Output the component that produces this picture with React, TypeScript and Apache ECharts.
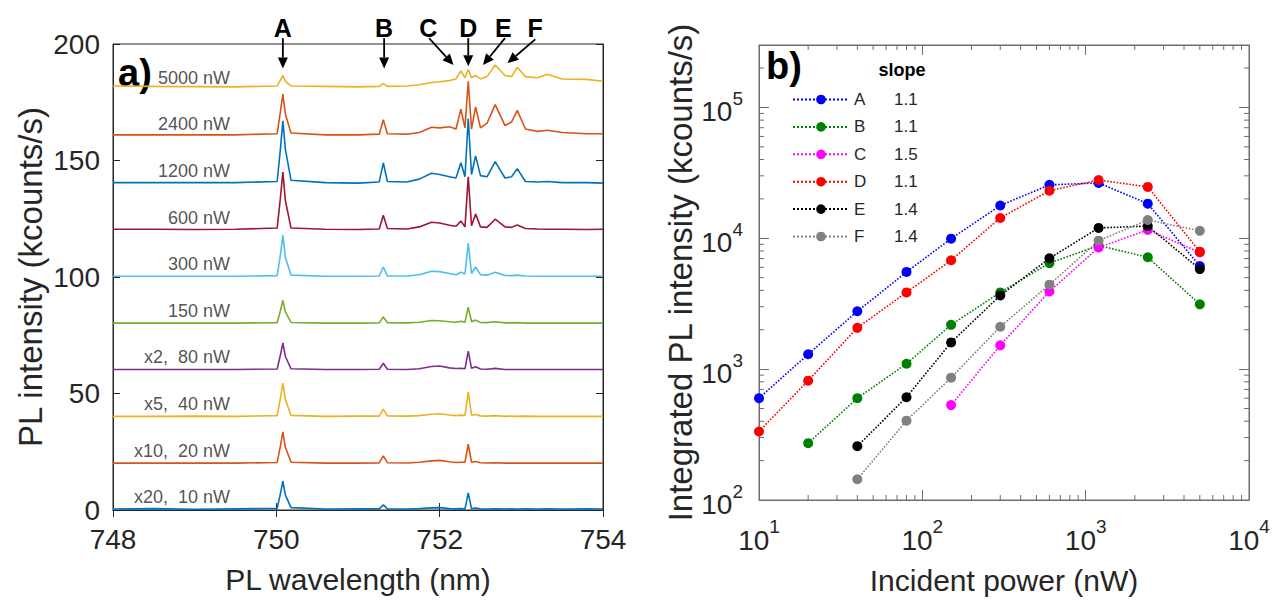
import React, { useEffect, useRef } from "react";
import * as echarts from "echarts";

const FONT = "'Liberation Sans', Arial, Helvetica, sans-serif";
const TXT = "#262626";

// ---------- panel a) : PL spectra ----------
const wavelengths = [
  748.0, 748.5, 749.0, 749.5, 750.01, 750.05, 750.08, 750.11, 750.18, 750.6, 751.0, 751.26, 751.31,
  751.36, 751.6, 751.75, 751.9, 752.0, 752.12, 752.2, 752.26, 752.31, 752.35, 752.39, 752.44, 752.5,
  752.58, 752.68, 752.8, 752.88, 752.95, 753.05, 753.2, 753.32, 753.5, 753.8, 754.0,
];
const spec10 = [0.4, 0.6, 0.3, 0.5, 0.7, 7.0, 12.4, 6.5, 1.0, 0.4, 0.5, 0.5, 2.2, 0.5, 0.4, 0.6, 0.9, 1.0, 0.6, 0.5, 0.6, 0.5, 7.3, 0.6, 0.8, 0.5, 0.4, 0.5, 0.4, 0.5, 0.4, 0.5, 0.4, 0.5, 0.4, 0.5, 0.4];
const spec20 = [20.1, 20.1, 20.1, 20.1, 20.4, 27.5, 33.5, 27.0, 20.5, 20.1, 20.1, 20.2, 23.2, 20.3, 20.2, 20.5, 21.1, 21.3, 20.7, 20.4, 20.5, 20.5, 28.3, 20.5, 20.8, 20.3, 20.2, 20.3, 20.1, 20.1, 20.1, 20.1, 20.1, 20.1, 20.1, 20.1, 20.1];
const spec40 = [40.2, 40.2, 40.3, 40.2, 40.5, 48.0, 54.5, 47.5, 40.6, 40.2, 40.3, 40.3, 43.3, 40.4, 40.3, 40.5, 41.1, 41.3, 40.8, 40.5, 40.7, 40.6, 50.6, 40.7, 41.0, 40.4, 40.3, 40.5, 40.2, 40.3, 40.2, 40.3, 40.2, 40.2, 40.2, 40.2, 40.2];
const spec80 = [60.3, 60.3, 60.3, 60.3, 60.5, 66.5, 71.7, 66.0, 60.6, 60.3, 60.3, 60.4, 63.0, 60.4, 60.3, 60.6, 61.6, 61.8, 61.0, 60.7, 60.8, 60.6, 68.2, 60.8, 61.5, 60.5, 60.4, 60.8, 60.3, 60.3, 60.3, 60.3, 60.3, 60.3, 60.3, 60.3, 60.3];
const spec150 = [80.2, 80.2, 80.2, 80.2, 80.4, 85.5, 90.0, 85.0, 80.5, 80.2, 80.2, 80.3, 82.8, 80.4, 80.3, 80.6, 81.3, 81.2, 80.8, 80.6, 81.0, 80.6, 87.1, 80.8, 81.5, 80.5, 80.4, 80.8, 80.3, 80.3, 80.4, 80.2, 80.2, 80.2, 80.2, 80.2, 80.2];
const spec300 = [100.3, 100.3, 100.3, 100.3, 100.6, 109.5, 118.0, 108.5, 100.8, 100.3, 100.3, 100.4, 104.3, 100.5, 100.4, 101.0, 102.5, 102.3, 101.5, 101.0, 102.0, 101.3, 114.6, 101.5, 104.3, 101.0, 100.8, 102.0, 100.7, 100.6, 100.8, 100.4, 100.3, 100.3, 100.3, 100.3, 100.3];
const spec600 = [120.5, 120.5, 120.4, 120.5, 121.0, 134.0, 145.0, 133.0, 121.0, 120.5, 120.4, 120.6, 126.5, 120.8, 120.6, 121.5, 123.5, 123.2, 122.2, 121.8, 124.0, 121.5, 143.0, 122.0, 127.0, 121.5, 121.3, 124.8, 121.5, 121.3, 122.3, 120.8, 120.6, 120.5, 120.5, 120.4, 120.5];
const spec1200 = [140.5, 140.5, 140.5, 140.5, 141.0, 155.0, 167.0, 155.0, 141.5, 140.5, 140.3, 140.8, 149.0, 141.0, 140.8, 142.0, 144.5, 144.0, 143.0, 142.5, 149.0, 143.0, 168.0, 144.0, 152.0, 143.5, 143.0, 149.5, 142.5, 143.0, 146.5, 141.0, 140.8, 141.0, 140.5, 140.5, 140.3];
const spec2400 = [161.0, 161.0, 161.0, 161.0, 161.5, 171.0, 178.5, 170.0, 161.8, 161.0, 161.0, 161.3, 167.5, 161.5, 161.3, 162.0, 164.3, 164.0, 164.5, 163.5, 172.0, 164.0, 184.0, 163.5, 173.0, 164.0, 166.0, 174.0, 165.0, 166.5, 171.5, 163.5, 162.5, 163.0, 162.0, 161.5, 161.5];
const spec5000 = [182.0, 181.8, 181.7, 181.6, 182.0, 184.5, 186.5, 184.0, 182.0, 181.8, 181.6, 181.8, 183.0, 181.8, 182.0, 182.5, 183.5, 183.8, 184.3, 185.0, 188.4, 185.5, 189.0, 185.5, 186.5, 185.0, 186.0, 191.0, 186.5, 186.0, 190.0, 186.0, 185.5, 187.0, 185.0, 184.8, 184.0];

const spectra = [spec10, spec20, spec40, spec80, spec150, spec300, spec600, spec1200, spec2400, spec5000];
const spectrumLabels = ["x20,  10 nW", "x10,  20 nW", "x5,  40 nW", "x2,  80 nW", "150 nW", "300 nW", "600 nW", "1200 nW", "2400 nW", "5000 nW"];
const spectrumOffsets = [0, 20, 40, 60, 80, 100, 120, 140, 160, 180];
const spectrumColors = ["#0072BD", "#D95319", "#EDB120", "#7E2F8E", "#77AC30", "#4DBEEE", "#A2142F", "#0072BD", "#D95319", "#EDB120"];
const labelWavelength = 749.44;

const wlTicks = { min: 748, max: 754, interval: 2 };
const intTicks = { min: 0, max: 200, interval: 50 };

// peak annotations (data coordinates of panel a)
const peakMarks = [
  { name: "A", label: [750.08, 207], tail: [750.08, 202.5], tip: [750.08, 189.5] },
  { name: "B", label: [751.32, 207], tail: [751.32, 202.5], tip: [751.32, 189.5] },
  { name: "C", label: [751.86, 207], tail: [751.87, 202.5], tip: [752.17, 191] },
  { name: "D", label: [752.35, 207], tail: [752.35, 202.5], tip: [752.35, 190.5] },
  { name: "E", label: [752.78, 207], tail: [752.8, 202.5], tip: [752.53, 191] },
  { name: "F", label: [753.17, 207], tail: [753.17, 202], tip: [752.83, 191.8] },
];

// ---------- panel b) : integrated intensity vs power ----------
const powers = [10, 20, 40, 80, 150, 300, 600, 1200, 2400, 5000];
const intA = [600, 1300, 2770, 5530, 9930, 17800, 25600, 26500, 18400, 6140];
const intB = [null, 272, 600, 1100, 2180, 3860, 6460, 8800, 7160, 3130];
const intC = [null, null, null, null, 531, 1520, 3920, 8510, 11600, 7800];
const intD = [334, 817, 2070, 3860, 6790, 14300, 23100, 27900, 24700, 7900];
const intE = [null, null, 258, 610, 1600, 3660, 7030, 12000, 12400, 5820];
const intF = [null, null, 144, 404, 861, 2110, 4420, 9590, 13800, 11400];
const peakSeries = [intA, intB, intC, intD, intE, intF];
const peakNames = ["A", "B", "C", "D", "E", "F"];
const slopes = ["1.1", "1.1", "1.5", "1.1", "1.4", "1.4"];
const peakColors = ["#0000FF", "#008000", "#FF00FF", "#FF0000", "#000000", "#808080"];

const powerRange = { min: 10, max: 10000 };
const integRange = { min: 100, max: 300000 };
const minorPowerTicks = [20, 30, 40, 50, 60, 70, 80, 90, 200, 300, 400, 500, 600, 700, 800, 900, 2000, 3000, 4000, 5000, 6000, 7000, 8000, 9000];
const minorIntegTicks = [200, 300, 400, 500, 600, 700, 800, 900, 2000, 3000, 4000, 5000, 6000, 7000, 8000, 9000, 20000, 30000, 40000, 50000, 60000, 70000, 80000, 90000, 200000];

const FRAME_A = "#262626";
const FRAME_B = "#6e6e6e";

function powLabel(v: number) {
  const e = Math.log10(v);
  const r = Math.round(e);
  return Math.abs(e - r) < 1e-6 ? `{b|10}{s|${r}}` : "";
}
const powRich = {
  b: { fontSize: 28, fontFamily: FONT, color: TXT, padding: [9, 0, 0, 0], verticalAlign: "bottom" },
  s: { fontSize: 19, fontFamily: FONT, color: TXT, verticalAlign: "top" },
};

function buildOption(): any {
  const tickStyle = (c: string, len: number) => ({ show: true, inside: true, length: len, lineStyle: { color: c, width: 1 } });
  const series: any[] = [];
  spectra.forEach((s, i) => {
    series.push({
      type: "line",
      name: spectrumLabels[i],
      xAxisIndex: 0,
      yAxisIndex: 0,
      data: wavelengths.map((w, j) => [w, s[j]]),
      showSymbol: false,
      symbol: "none",
      lineStyle: { color: spectrumColors[i], width: 1.6 },
      silent: true,
      z: 2,
    });
  });
  series.push({
    type: "scatter",
    name: "labels",
    xAxisIndex: 0,
    yAxisIndex: 0,
    symbolSize: 1,
    itemStyle: { color: "rgba(0,0,0,0)" },
    data: spectrumLabels.map((t, i) => [labelWavelength, spectrumOffsets[i] + 5.5]),
    label: {
      show: true,
      position: "left",
      distance: 0,
      formatter: (p: any) => spectrumLabels[p.dataIndex],
      fontSize: 18,
      fontFamily: FONT,
      color: TXT,
    },
    silent: true,
    z: 3,
  });
  peakSeries.forEach((vals, i) => {
    const pts: number[][] = [];
    vals.forEach((v, j) => {
      if (v !== null) pts.push([powers[j], v as number]);
    });
    series.push({
      type: "line",
      name: peakNames[i],
      xAxisIndex: 2,
      yAxisIndex: 2,
      data: pts,
      symbol: "circle",
      symbolSize: 10,
      showSymbol: true,
      lineStyle: { color: peakColors[i], width: 1.6, type: "dotted" },
      itemStyle: { color: peakColors[i] },
      silent: true,
      z: 3,
    });
  });
  // log minor ticks (panel b)
  series.push({
    type: "custom",
    name: "minorX",
    xAxisIndex: 2,
    yAxisIndex: 2,
    silent: true,
    data: minorPowerTicks.map((v) => [v, 1000]),
    renderItem: (params: any, api: any) => {
      const cs = params.coordSys;
      const x = api.coord([api.value(0), 1000])[0];
      const st = { stroke: FRAME_B, lineWidth: 1 };
      return {
        type: "group",
        children: [
          { type: "line", shape: { x1: x, y1: cs.y + cs.height, x2: x, y2: cs.y + cs.height - 5 }, style: st },
          { type: "line", shape: { x1: x, y1: cs.y, x2: x, y2: cs.y + 5 }, style: st },
        ],
      };
    },
  });
  series.push({
    type: "custom",
    name: "minorY",
    xAxisIndex: 2,
    yAxisIndex: 2,
    silent: true,
    data: minorIntegTicks.map((v) => [100, v]),
    renderItem: (params: any, api: any) => {
      const cs = params.coordSys;
      const y = api.coord([100, api.value(1)])[1];
      const st = { stroke: FRAME_B, lineWidth: 1 };
      return {
        type: "group",
        children: [
          { type: "line", shape: { x1: cs.x, y1: y, x2: cs.x + 5, y2: y }, style: st },
          { type: "line", shape: { x1: cs.x + cs.width, y1: y, x2: cs.x + cs.width - 5, y2: y }, style: st },
        ],
      };
    },
  });

  return {
    animation: false,
    backgroundColor: "#ffffff",
    textStyle: { fontFamily: FONT },
    grid: [
      { left: 113, top: 44, width: 490, height: 466, show: true, borderColor: FRAME_A, borderWidth: 1, backgroundColor: "transparent" },
      { left: 759, top: 45, width: 490, height: 464, show: true, borderColor: FRAME_B, borderWidth: 1, backgroundColor: "transparent" },
    ],
    legend: {
      data: peakNames,
      orient: "vertical",
      left: 787,
      top: 86,
      itemWidth: 56,
      itemHeight: 12,
      itemGap: 10.4,
      selectedMode: false,
      formatter: (name: string) => `{n|${name}}{s|${slopes[peakNames.indexOf(name)]}}`,
      textStyle: {
        fontSize: 17,
        fontFamily: FONT,
        color: TXT,
        rich: {
          n: { width: 40, fontSize: 17, lineHeight: 16, fontFamily: FONT, color: TXT },
          s: { fontSize: 17, lineHeight: 16, fontFamily: FONT, color: TXT },
        },
      },
    },
    xAxis: [
      {
        gridIndex: 0, type: "value", position: "bottom", ...wlTicks,
        axisLine: { show: true, lineStyle: { color: FRAME_A } },
        axisTick: tickStyle(FRAME_A, 7),
        axisLabel: { fontSize: 28, fontFamily: FONT, color: TXT, margin: 15 },
        splitLine: { show: false },
        name: "PL wavelength (nm)", nameLocation: "middle", nameGap: 54,
        nameTextStyle: { fontSize: 30, fontFamily: FONT, color: TXT },
      },
      {
        gridIndex: 0, type: "value", position: "top", ...wlTicks,
        axisLine: { show: true, lineStyle: { color: FRAME_A } },
        axisTick: tickStyle(FRAME_A, 7),
        axisLabel: { show: false },
        splitLine: { show: false },
      },
      {
        gridIndex: 1, type: "log", logBase: 10, position: "bottom", ...powerRange,
        axisLine: { show: true, lineStyle: { color: FRAME_B } },
        axisTick: tickStyle(FRAME_B, 10),
        axisLabel: { formatter: powLabel, rich: powRich, margin: 17, showMinLabel: true, showMaxLabel: true },
        splitLine: { show: false },
        name: "Incident power (nW)", nameLocation: "middle", nameGap: 65,
        nameTextStyle: { fontSize: 30, fontFamily: FONT, color: TXT },
      },
      {
        gridIndex: 1, type: "log", logBase: 10, position: "top", ...powerRange,
        axisLine: { show: true, lineStyle: { color: FRAME_B } },
        axisTick: tickStyle(FRAME_B, 10),
        axisLabel: { show: false },
        splitLine: { show: false },
      },
    ],
    yAxis: [
      {
        gridIndex: 0, type: "value", position: "left", ...intTicks,
        axisLine: { show: true, lineStyle: { color: FRAME_A } },
        axisTick: tickStyle(FRAME_A, 7),
        axisLabel: { fontSize: 28, fontFamily: FONT, color: TXT, margin: 13 },
        splitLine: { show: false },
        name: "PL intensity (kcounts/s)", nameLocation: "middle", nameGap: 66, nameRotate: 90,
        nameTextStyle: { fontSize: 33, fontFamily: FONT, color: TXT },
      },
      {
        gridIndex: 0, type: "value", position: "right", ...intTicks,
        axisLine: { show: true, lineStyle: { color: FRAME_A } },
        axisTick: tickStyle(FRAME_A, 7),
        axisLabel: { show: false },
        splitLine: { show: false },
      },
      {
        gridIndex: 1, type: "log", logBase: 10, position: "left", ...integRange,
        axisLine: { show: true, lineStyle: { color: FRAME_B } },
        axisTick: tickStyle(FRAME_B, 10),
        axisLabel: { formatter: powLabel, rich: powRich, margin: 16 },
        splitLine: { show: false },
        name: "Integrated PL intensity (kcounts/s)", nameLocation: "middle", nameGap: 62, nameRotate: 90,
        nameTextStyle: { fontSize: 33, fontFamily: FONT, color: TXT },
      },
      {
        gridIndex: 1, type: "log", logBase: 10, position: "right", ...integRange,
        axisLine: { show: true, lineStyle: { color: FRAME_B } },
        axisTick: tickStyle(FRAME_B, 10),
        axisLabel: { show: false },
        splitLine: { show: false },
      },
    ],
    series,
  };
}

export default function App() {
  const ref = useRef<HTMLDivElement>(null);
  useEffect(() => {
    document.body.style.margin = "0";
    const chart = echarts.init(ref.current!, null, { renderer: "svg" });
    chart.setOption(buildOption());
    const toPx = (p: number[]) => chart.convertToPixel({ xAxisIndex: 0, yAxisIndex: 0 }, p) as number[];
    const els: any[] = [
      { type: "text", x: 135, y: 73, silent: true, style: { text: "a)", fontSize: 38, fontWeight: "bold", fontFamily: FONT, fill: "#000", align: "center", verticalAlign: "middle" } },
      { type: "text", x: 784, y: 66, silent: true, style: { text: "b)", fontSize: 38, fontWeight: "bold", fontFamily: FONT, fill: "#000", align: "center", verticalAlign: "middle" } },
      { type: "text", x: 902, y: 70, silent: true, style: { text: "slope", fontSize: 18, fontWeight: "bold", fontFamily: FONT, fill: "#000", align: "center", verticalAlign: "middle" } },
    ];
    peakMarks.forEach((m) => {
      const [tx, ty] = toPx(m.tail);
      const [hx, hy] = toPx(m.tip);
      const [lx, ly] = toPx(m.label);
      const dx = hx - tx;
      const dy = hy - ty;
      const len = Math.hypot(dx, dy) || 1;
      const ux = dx / len;
      const uy = dy / len;
      const hl = 11;
      const hw = 5;
      const bx = hx - ux * hl;
      const by = hy - uy * hl;
      els.push({ type: "line", silent: true, shape: { x1: tx, y1: ty, x2: bx, y2: by }, style: { stroke: "#000", lineWidth: 1.8 } });
      els.push({ type: "polygon", silent: true, shape: { points: [[hx, hy], [bx - uy * hw, by + ux * hw], [bx + uy * hw, by - ux * hw]] }, style: { fill: "#000" } });
      els.push({ type: "text", x: lx, y: ly, silent: true, style: { text: m.name, fontSize: 25, fontWeight: "bold", fontFamily: FONT, fill: "#000", align: "center", verticalAlign: "middle" } });
    });
    chart.setOption({ graphic: { elements: els } });
    return () => chart.dispose();
  }, []);
  return <div ref={ref} style={{ width: 1275, height: 600 }} />;
}
